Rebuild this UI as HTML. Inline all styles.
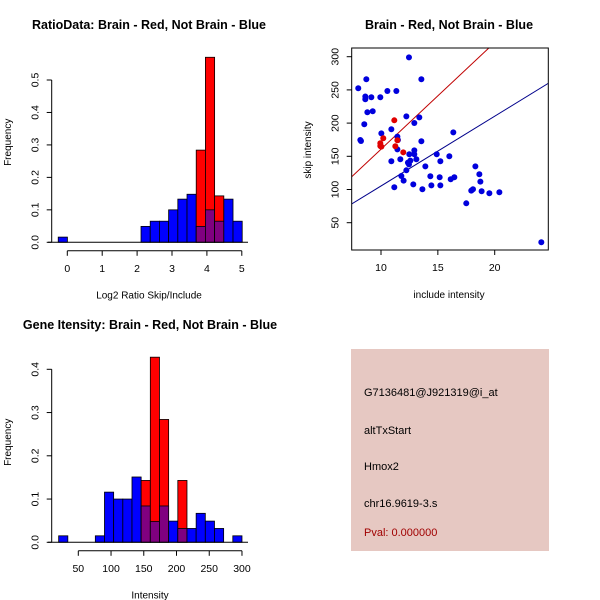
<!DOCTYPE html>
<html><head><meta charset="utf-8"><style>
html,body{margin:0;padding:0;background:#fff;width:600px;height:600px;overflow:hidden}
svg{display:block;font-family:"Liberation Sans",sans-serif}
</style></head><body>
<svg id="svg" width="600" height="600" xmlns="http://www.w3.org/2000/svg">
<text x="149" y="29" font-size="12.5" font-weight="bold" text-anchor="middle">RatioData: Brain - Red, Not Brain - Blue</text>
<text x="449" y="29" font-size="12.5" font-weight="bold" text-anchor="middle">Brain - Red, Not Brain - Blue</text>
<text x="150" y="329" font-size="12.5" font-weight="bold" text-anchor="middle">Gene Itensity: Brain - Red, Not Brain - Blue</text>
<g id="p1"></g>
<g id="p2"></g>
<g id="p3"></g>
<g>
<rect x="351" y="349" width="198" height="202" fill="#e6c8c2"/>
<text x="364" y="396" font-size="11">G7136481@J921319@i_at</text>
<text x="364" y="434" font-size="11">altTxStart</text>
<text x="364" y="470" font-size="11">Hmox2</text>
<text x="364" y="507" font-size="11">chr16.9619-3.s</text>
<text x="364" y="536" font-size="11" fill="#a00000">Pval: 0.000000</text>
</g>
</svg>
<script>
// ---- Panel 1 data ----
const ratioBinStart = -0.26, ratioBinWidth = 0.2636;
const ratioBlue = [0.016,0,0,0,0,0,0,0,0,0.049,0.065,0.065,0.1,0.133,0.148,0.049,0.1,0.065,0.133,0.065];
const ratioRed  = [0,0,0,0,0,0,0,0,0,0,0,0,0,0,0,0.284,0.57,0.143,0,0];
const ratioXTicks = [0,1,2,3,4,5];
const ratioYTicks = [0.0,0.1,0.2,0.3,0.4,0.5];
// ---- Panel 2 data ----
const blueX = [8.0,8.71,8.62,8.62,9.15,9.94,10.56,11.35,12.46,13.55,8.8,9.27,8.53,8.18,8.24,10.03,10.91,12.23,13.37,12.93,13.55,11.44,11.49,11.44,11.7,10.91,12.49,12.93,12.93,13.11,12.58,12.37,12.46,12.23,11.79,11.99,11.17,12.84,13.64,13.9,14.34,14.43,14.9,15.22,15.16,15.22,16.01,16.13,16.45,16.36,17.5,17.94,18.09,18.3,18.65,18.74,18.85,19.53,20.41,24.1];
const blueY = [252.4,266,240,236,238.9,238.9,248.4,248.4,299,266,216.3,217.8,198.2,174.6,173.1,184.6,190.7,210.2,208.7,200.2,172.6,179.6,174.6,160.5,145.5,142.5,153,159,153,145.5,143.5,140.5,137.9,128.9,120.4,113.4,103.3,107.8,100.3,134.9,119.9,106.3,153,142.5,118.4,106.3,150,115.4,118.4,186.1,79.2,98.3,100.3,134.9,122.9,111.8,97.3,94.3,95.8,20.5];
const redX = [9.94,9.94,10.03,10.2,11.17,11.26,11.44,11.96];
const redY = [169.6,165.6,164.6,177.1,204.2,165.1,174.1,156.0];
const redSlope = 16.07, redIntercept = 0;
const blueSlope = 10.51, blueIntercept = 0.2;
const scatXTicks = [10,15,20];
const scatYTicks = [50,100,150,200,250,300];
// ---- Panel 3 data ----
const intBinStart = 20, intBinWidth = 14;
const intBlue = [0.015,0,0,0,0.015,0.116,0.1,0.1,0.151,0.084,0.048,0.084,0.049,0.032,0.032,0.067,0.049,0.032,0,0.015];
const intRed  = [0,0,0,0,0,0,0,0,0,0.143,0.428,0.284,0,0.143,0,0,0,0,0,0];
const intXTicks = [50,100,150,200,250,300];
const intYTicks = [0.0,0.1,0.2,0.3,0.4];

const NS="http://www.w3.org/2000/svg";
function mk(parent,tag,attrs,text){const e=document.createElementNS(NS,tag);for(const k in attrs)e.setAttribute(k,attrs[k]);if(text!==undefined)e.textContent=text;parent.appendChild(e);return e;}

function hist(g,o){
  const sx=v=>o.x0px+(v-o.x0)*o.kx, sy=v=>o.y0px-v*o.ky;
  const n=o.blue.length;
  for(let i=0;i<n;i++){
    const a=sx(o.start+i*o.w), b=sx(o.start+(i+1)*o.w);
    const bv=o.blue[i], rv=o.red[i];
    if(rv>0){const r=mk(g,'rect',{x:a,y:sy(rv),width:b-a,height:sy(0)-sy(rv),fill:'#ff0000',stroke:'#000','stroke-width':0.8});
      
      }
    if(bv>0){const top=rv>0?Math.min(bv,rv):bv;
      if(bv>rv&&rv>0){const r0=mk(g,'rect',{x:a,y:sy(bv),width:b-a,height:sy(rv)-sy(bv),fill:'#0000ff',stroke:'#000','stroke-width':0.8});
        
        }
      const r=mk(g,'rect',{x:a,y:sy(top),width:b-a,height:sy(0)-sy(top),fill:rv>0?'#800080':'#0000ff',stroke:'#000','stroke-width':0.8});
      
      }
  }
  const base=mk(g,'line',{x1:o.baseL,x2:o.baseR,y1:sy(0),y2:sy(0),stroke:'#000','stroke-width':1});
  
  
  const xa=o.y0px+8.5;
  const xl=mk(g,'line',{x1:sx(o.xt[0]),x2:sx(o.xt[o.xt.length-1]),y1:xa,y2:xa,stroke:'#000'});
  
  
  o.xt.forEach(t=>{mk(g,'line',{x1:sx(t),x2:sx(t),y1:xa,y2:xa+5,stroke:'#000'});
    const tx=mk(g,'text',{x:sx(t),y:xa+21,'font-size':10.5,'text-anchor':'middle'},String(t));
    
    });
  const ya=o.x0pxAxis;
  const yl=mk(g,'line',{x1:ya,x2:ya,y1:sy(o.yt[0]),y2:sy(o.yt[o.yt.length-1]),stroke:'#000'});
  
  
  o.yt.forEach(t=>{mk(g,'line',{x1:ya-5,x2:ya,y1:sy(t),y2:sy(t),stroke:'#000'});
    const y=sy(t);const tx=mk(g,'text',{x:ya-13,y:y,'font-size':10.5,'text-anchor':'middle',transform:`rotate(-90 ${ya-13} ${y})`},t.toFixed(1));
    
    });
  const xt=mk(g,'text',{x:o.xlabX,y:o.y0px+56,'font-size':10,'text-anchor':'middle'},o.xlab);
  
  
  const yy=o.y0px-100;const yt=mk(g,'text',{x:11,y:yy,'font-size':10,'text-anchor':'middle',transform:`rotate(-90 11 ${yy})`},'Frequency');
  
  
}

hist(document.getElementById('p1'),{x0:0,x0px:67.3,kx:34.9,y0px:242.3,ky:324.6,start:ratioBinStart,w:ratioBinWidth,blue:ratioBlue,red:ratioRed,xt:ratioXTicks,yt:ratioYTicks,baseL:48,baseR:248,x0pxAxis:51.7,xlab:'Log2 Ratio Skip/Include',xlabX:149});
hist(document.getElementById('p3'),{x0:50,x0px:78.3,kx:0.6547,y0px:542.3,ky:432.5,start:intBinStart,w:intBinWidth,blue:intBlue,red:intRed,xt:intXTicks,yt:intYTicks,baseL:48,baseR:248,x0pxAxis:51.7,xlab:'Intensity',xlabX:150});

(function(){
  const g=document.getElementById('p2');
  const L=351.7,R=548.3,T=48,B=250;
  const sx=v=>381+(v-10)*11.37, sy=v=>255.9-v*0.664;
  const clip=mk(g,'clipPath',{id:'clp'});mk(clip,'rect',{x:L,y:T,width:R-L,height:B-T});
  const lg=mk(g,'g',{'clip-path':'url(#clp)'});
  const x1=6,x2=26;
  const rl=mk(lg,'line',{x1:sx(x1),x2:sx(x2),y1:sy(redIntercept+redSlope*x1),y2:sy(redIntercept+redSlope*x2),stroke:'#c00000','stroke-width':1});
  
  
  const bl=mk(lg,'line',{x1:sx(x1),x2:sx(x2),y1:sy(blueIntercept+blueSlope*x1),y2:sy(blueIntercept+blueSlope*x2),stroke:'#00008b','stroke-width':1});
  
  
  blueX.forEach((x,i)=>{const c=mk(g,'circle',{cx:sx(x),cy:sy(blueY[i]),r:3,fill:'#0000dd'});
    
    });
  redX.forEach((x,i)=>{const c=mk(g,'circle',{cx:sx(x),cy:sy(redY[i]),r:3,fill:'#e00000'});
    
    });
  const box=mk(g,'rect',{x:L,y:T,width:R-L,height:B-T,fill:'none',stroke:'#000'});
  
  
  scatXTicks.forEach(t=>{mk(g,'line',{x1:sx(t),x2:sx(t),y1:B,y2:B+5,stroke:'#000'});
    const tx=mk(g,'text',{x:sx(t),y:B+21,'font-size':10.5,'text-anchor':'middle'},String(t));
    
    });
  scatYTicks.forEach(t=>{const y=sy(t);mk(g,'line',{x1:L-5,x2:L,y1:y,y2:y,stroke:'#000'});
    const tx=mk(g,'text',{x:L-13,y:y,'font-size':10.5,'text-anchor':'middle',transform:`rotate(-90 ${L-13} ${y})`},String(t));
    
    });
  const xt=mk(g,'text',{x:449,y:298,'font-size':10,'text-anchor':'middle'},'include intensity');
  
  
  const yt=mk(g,'text',{x:311,y:150,'font-size':10,'text-anchor':'middle',transform:'rotate(-90 311 150)'},'skip intensity');
  
  
})();
</script>
</body></html>
